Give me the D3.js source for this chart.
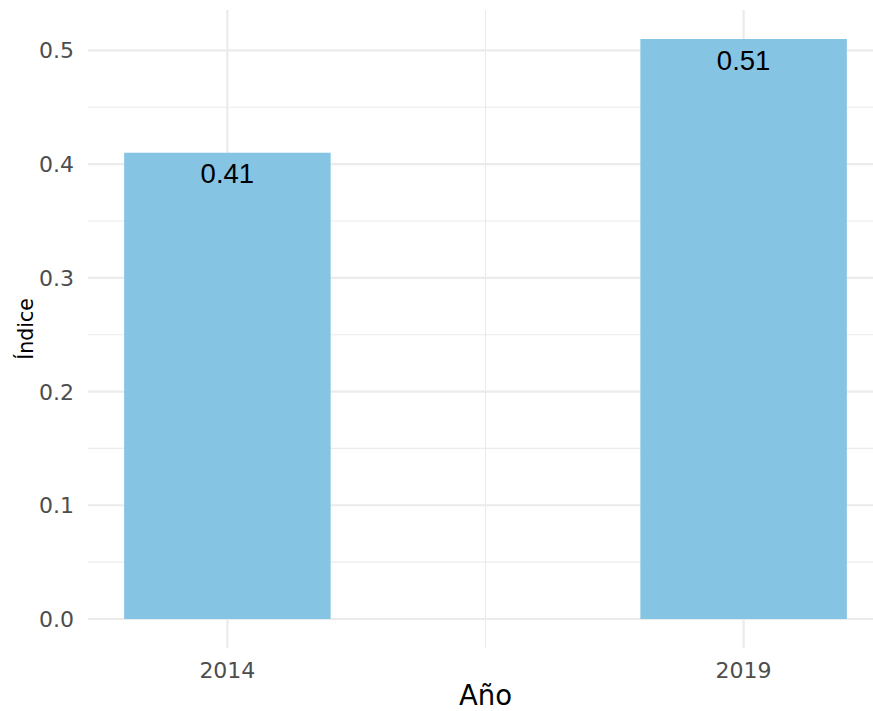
<!DOCTYPE html>
<html>
<head>
<meta charset="utf-8">
<script src="https://cdn.jsdelivr.net/npm/d3@7"></script>
<style>
  body { margin: 0; background: #fff; }
  svg { display: block; }
</style>
</head>
<body>
<div id="chart"></div>
<script>
// data
var years = [2014, 2019];
var values = [0.41, 0.51];
var labels = ["0.41", "0.51"];
var yTicks = [0, 0.1, 0.2, 0.3, 0.4, 0.5];
var yMinor = [0.05, 0.15, 0.25, 0.35, 0.45];
var xMinor = [2016.5];

var width = 873, height = 711;
var panel = {left: 88, right: 883, top: 10, bottom: 648};
var barWidth = 2; // in years

var svg = d3.select('#chart').append('svg')
    .attr('width', width)
    .attr('height', height);

// scales, ggplot style 5% expansion
var xLo = d3.min(years) - barWidth / 2, xHi = d3.max(years) + barWidth / 2;
var xPad = (xHi - xLo) * 0.05;
var x = d3.scaleLinear()
    .domain([xLo - xPad, xHi + xPad])
    .range([panel.left, panel.right]);

var yHi = d3.max(values), yPad = yHi * 0.05;
var y = d3.scaleLinear()
    .domain([-yPad, yHi + yPad])
    .range([panel.bottom, panel.top]);

var grid = svg.append('g');

// minor grid
grid.selectAll('.ymin').data(yMinor).enter().append('line')
    .attr('x1', panel.left).attr('x2', panel.right)
    .attr('y1', function(d) { return y(d); })
    .attr('y2', function(d) { return y(d); })
    .attr('stroke', '#EBEBEB').attr('stroke-width', 1.1);
grid.selectAll('.xmin').data(xMinor).enter().append('line')
    .attr('y1', panel.top).attr('y2', panel.bottom)
    .attr('x1', function(d) { return x(d); })
    .attr('x2', function(d) { return x(d); })
    .attr('stroke', '#EBEBEB').attr('stroke-width', 1.1);

// major grid
grid.selectAll('.ymaj').data(yTicks).enter().append('line')
    .attr('x1', panel.left).attr('x2', panel.right)
    .attr('y1', function(d) { return y(d); })
    .attr('y2', function(d) { return y(d); })
    .attr('stroke', '#EBEBEB').attr('stroke-width', 2.2);
grid.selectAll('.xmaj').data(years).enter().append('line')
    .attr('y1', panel.top).attr('y2', panel.bottom)
    .attr('x1', function(d) { return x(d); })
    .attr('x2', function(d) { return x(d); })
    .attr('stroke', '#EBEBEB').attr('stroke-width', 2.2);

// bars
svg.selectAll('rect.bar').data(values).enter().append('rect')
    .attr('class', 'bar')
    .attr('x', function(d, i) { return x(years[i] - barWidth / 2); })
    .attr('width', function(d, i) { return x(years[i] + barWidth / 2) - x(years[i] - barWidth / 2); })
    .attr('y', function(d) { return y(d); })
    .attr('height', function(d) { return y(0) - y(d); })
    .attr('fill', '#86C4E3');

// bar labels
svg.selectAll('text.lab').data(values).enter().append('text')
    .attr('class', 'lab')
    .attr('x', function(d, i) { return x(years[i]); })
    .attr('y', function(d) { return y(d) + 30.5; })
    .attr('text-anchor', 'middle')
    .attr('font-family', 'Liberation Sans, Arial, sans-serif')
    .attr('font-size', 27.5)
    .attr('fill', '#000')
    .text(function(d, i) { return labels[i]; });

// y tick labels
svg.selectAll('text.yt').data(yTicks).enter().append('text')
    .attr('class', 'yt')
    .attr('x', 74)
    .attr('y', function(d) { return y(d) + 8; })
    .attr('text-anchor', 'end')
    .attr('font-family', 'DejaVu Sans, sans-serif')
    .attr('font-size', 22)
    .attr('fill', '#4D4D4D')
    .text(function(d) { return d3.format('.1f')(d); });

// x tick labels
svg.selectAll('text.xt').data(years).enter().append('text')
    .attr('class', 'xt')
    .attr('x', function(d) { return x(d); })
    .attr('y', 678)
    .attr('text-anchor', 'middle')
    .attr('font-family', 'DejaVu Sans, sans-serif')
    .attr('font-size', 22)
    .attr('fill', '#4D4D4D')
    .text(function(d) { return d; });

// axis titles
svg.append('text')
    .attr('x', (panel.left + panel.right) / 2)
    .attr('y', 705)
    .attr('text-anchor', 'middle')
    .attr('font-family', 'DejaVu Sans, sans-serif')
    .attr('font-size', 27.5)
    .attr('fill', '#000')
    .text('Año');

svg.append('text')
    .attr('transform', 'translate(33,' + ((panel.top + panel.bottom) / 2) + ') rotate(-90)')
    .attr('text-anchor', 'middle')
    .attr('font-family', 'DejaVu Sans, sans-serif')
    .attr('font-size', 20.5)
    .attr('fill', '#000')
    .text('Índice');
</script>
</body>
</html>
